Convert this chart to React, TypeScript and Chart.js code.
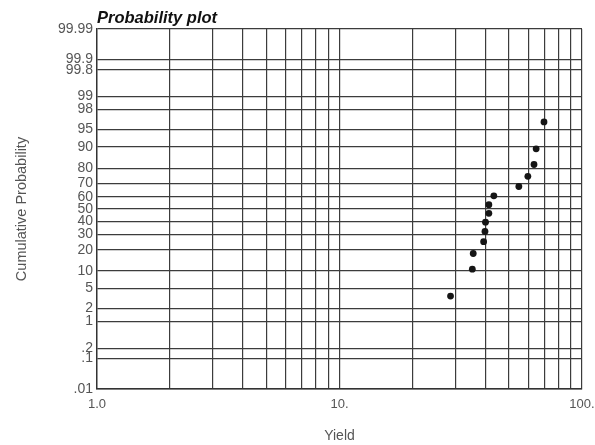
import React, { useEffect, useRef } from 'react';
import { Chart, registerables } from 'chart.js';

Chart.register(...registerables);

const chartTitle = 'Probability plot';
const xAxisTitle = 'Yield';
const yAxisTitle = 'Cumulative Probability';

const yieldValues = [28.7, 35.3, 35.6, 39.3, 39.8, 40.0, 41.3, 41.3, 43.3, 54.9, 59.8, 63.4, 64.7, 69.7];
const cumulativePercent = [3.6, 10.7, 17.9, 25.0, 32.1, 39.3, 46.4, 53.6, 60.7, 67.9, 75.0, 82.1, 89.3, 96.4];

// X axis (log) grid values and labels
const xGridValues = [1, 2, 3, 4, 5, 6, 7, 8, 9, 10, 20, 30, 40, 50, 60, 70, 80, 90, 100];
const xLabelValues = [1, 10, 100];
const xLabelTexts = ['1.0', '10.', '100.'];

// Y axis (normal probability) ticks and labels
const yTickPercents = [0.01, 0.1, 0.2, 1, 2, 5, 10, 20, 30, 40, 50, 60, 70, 80, 90, 95, 98, 99, 99.8, 99.9, 99.99];
const yTickLabels = ['.01', '.1', '.2', '1', '2', '5', '10', '20', '30', '40', '50', '60', '70', '80', '90', '95', '98', '99', '99.8', '99.9', '99.99'];
const yMinPercent = 0.01;
const yMaxPercent = 99.99;

// Inverse standard normal CDF (Acklam's approximation)
function probit(p: number): number {
  const a = [-3.969683028665376e1, 2.209460984245205e2, -2.759285104469687e2, 1.38357751867269e2, -3.066479806614716e1, 2.506628277459239];
  const b = [-5.447609879822406e1, 1.615858368580409e2, -1.556989798598866e2, 6.680131188771972e1, -1.328068155288572e1];
  const c = [-7.784894002430293e-3, -3.223964580411365e-1, -2.400758277161838, -2.549732539343734, 4.374664141464968, 2.938163982698783];
  const d = [7.784695709041462e-3, 3.224671290700398e-1, 2.445134137142996, 3.754408661907416];
  const plow = 0.02425;
  const phigh = 1 - plow;
  if (p < plow) {
    const q = Math.sqrt(-2 * Math.log(p));
    return (((((c[0] * q + c[1]) * q + c[2]) * q + c[3]) * q + c[4]) * q + c[5]) /
      ((((d[0] * q + d[1]) * q + d[2]) * q + d[3]) * q + 1);
  }
  if (p <= phigh) {
    const q = p - 0.5;
    const r = q * q;
    return ((((((a[0] * r + a[1]) * r + a[2]) * r + a[3]) * r + a[4]) * r + a[5]) * q) /
      (((((b[0] * r + b[1]) * r + b[2]) * r + b[3]) * r + b[4]) * r + 1);
  }
  const q = Math.sqrt(-2 * Math.log(1 - p));
  return -(((((c[0] * q + c[1]) * q + c[2]) * q + c[3]) * q + c[4]) * q + c[5]) /
    ((((d[0] * q + d[1]) * q + d[2]) * q + d[3]) * q + 1);
}

const FONT = '"Liberation Sans", Arial, Helvetica, sans-serif';

const titlePlugin = {
  id: 'plotTitle',
  afterDraw(chart: any) {
    const { ctx, chartArea } = chart;
    ctx.save();
    ctx.font = `italic bold 16.5px ${FONT}`;
    ctx.fillStyle = '#111';
    ctx.textAlign = 'left';
    ctx.textBaseline = 'alphabetic';
    ctx.fillText(chartTitle, chartArea.left, chartArea.top - 6);
    ctx.restore();
  },
};

export default function App() {
  const ref = useRef<HTMLCanvasElement>(null);

  useEffect(() => {
    const points = yieldValues.map((x, i) => ({ x, y: probit(cumulativePercent[i] / 100) }));
    const chart = new Chart(ref.current!, {
      type: 'scatter',
      data: {
        datasets: [
          {
            data: points,
            pointRadius: 3.4,
            pointBackgroundColor: '#151515',
            pointBorderWidth: 0,
            showLine: false,
          },
        ],
      },
      plugins: [titlePlugin],
      options: {
        animation: false,
        responsive: false,
        devicePixelRatio: 1,
        layout: { padding: { top: 29, right: 13, left: 0, bottom: 0 } },
        plugins: {
          legend: { display: false },
          tooltip: { enabled: false },
        },
        scales: {
          x: {
            type: 'logarithmic',
            min: 1,
            max: 100,
            afterBuildTicks: (scale: any) => {
              scale.ticks = xGridValues.map((v) => ({ value: v }));
            },
            afterFit: (scale: any) => {
              scale.height = 56;
              scale.paddingLeft = 0;
              scale.paddingRight = 0;
            },
            grid: { color: '#3c3c3c', lineWidth: 1.2, drawTicks: false },
            border: { display: true, color: '#333', width: 1.4 },
            ticks: {
              autoSkip: false,
              maxRotation: 0,
              padding: 8,
              color: '#555',
              font: { family: FONT, size: 13 },
              callback: (_v: any, i: number) => {
                const idx = xLabelValues.indexOf(xGridValues[i]);
                return idx >= 0 ? xLabelTexts[idx] : '';
              },
            },
            title: {
              display: true,
              text: xAxisTitle,
              color: '#555',
              font: { family: FONT, size: 14 },
              padding: { top: 0, bottom: 0 },
            },
          },
          y: {
            type: 'linear',
            min: probit(yMinPercent / 100),
            max: probit(yMaxPercent / 100),
            afterBuildTicks: (scale: any) => {
              scale.ticks = yTickPercents.map((p) => ({ value: probit(p / 100) }));
            },
            afterFit: (scale: any) => {
              scale.width = 97;
              scale.paddingTop = 0;
              scale.paddingBottom = 0;
            },
            grid: { color: '#3c3c3c', lineWidth: 1.2, drawTicks: false },
            border: { display: true, color: '#333', width: 1.4 },
            ticks: {
              autoSkip: false,
              padding: 4,
              color: '#555',
              font: { family: FONT, size: 14 },
              callback: (_v: any, i: number) => yTickLabels[i],
            },
            title: {
              display: true,
              text: yAxisTitle,
              color: '#555',
              font: { family: FONT, size: 14.5 },
              padding: { top: 13, bottom: 0 },
            },
          },
        },
      },
    } as any);
    return () => chart.destroy();
  }, []);

  return (
    <div style={{ position: 'fixed', left: 0, top: 0, width: 595, height: 445, background: '#fff' }}>
      <canvas ref={ref} width={595} height={445} style={{ display: 'block', width: 595, height: 445 }} />
    </div>
  );
}
